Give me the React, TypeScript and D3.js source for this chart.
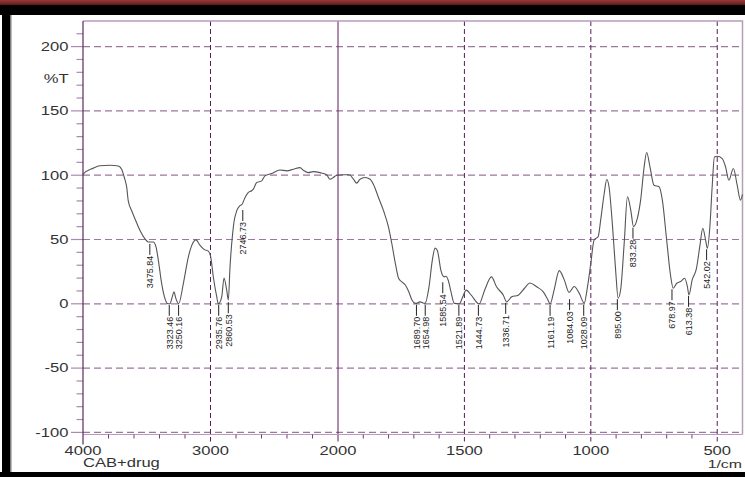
import { useEffect, useRef } from 'react';
import * as d3 from 'd3';

// IR spectrum, CAB+drug (wavenumber in 1/cm, transmittance in %T)
const wavenumbers = [
  4000, 3997, 3919, 3867, 3788, 3723, 3697, 3676, 3657, 3645, 3618, 3592, 3553, 3514, 3488, 3449,
  3427, 3409, 3383, 3357, 3339, 3318, 3301, 3287, 3271, 3250, 3213, 3174, 3147, 3114, 3082, 3051,
  3017, 2998, 2978, 2951, 2939, 2912, 2894, 2873, 2860, 2847, 2826, 2816, 2794, 2769, 2751, 2729,
  2703, 2677, 2664, 2638, 2598, 2573, 2520, 2455, 2402, 2350, 2298, 2272, 2233, 2194, 2141, 2089,
  2063, 2037, 2010, 1979, 1955, 1939, 1926, 1913, 1893, 1873, 1860, 1840, 1820, 1800, 1787, 1773,
  1760, 1747, 1733, 1720, 1707, 1693, 1676, 1656, 1640, 1627, 1616, 1607, 1593, 1580, 1573, 1564,
  1553, 1540, 1520, 1506, 1493, 1473, 1442, 1420, 1393, 1373, 1346, 1333, 1313, 1287, 1263, 1241,
  1214, 1188, 1172, 1161, 1145, 1125, 1105, 1086, 1066, 1046, 1026, 1013, 1000, 987, 971, 961,
  947, 937, 928, 914, 901, 892, 882, 868, 855, 842, 831, 816, 803, 789, 779, 766,
  750, 730, 717, 700, 684, 674, 660, 645, 629, 618, 612, 599, 582, 569, 557, 546,
  539, 529, 520, 511, 500, 480, 467, 454, 436, 421, 408, 400,
];
const transmittance = [
  100, 101, 105.5, 107.3, 107.7, 107.2, 104.6, 98.2, 90.5, 80, 72.4, 66, 57, 50.5, 48, 48,
  44, 33.8, 15.7, 4, 0.3, 0, 5, 9.3, 4, 0, 15.7, 36.3, 45.4, 49.7, 45.4, 42.3,
  41, 36.3, 21, 5.4, 0, 5.4, 20.1, 10.6, 3, 28.6, 55, 63.4, 72.4, 76.3, 77.6, 82.7,
  86.6, 87.9, 89.2, 94.3, 95.6, 99.5, 101.3, 104.1, 103.4, 104.6, 105.9, 103.9, 102, 102.8, 102, 100.3,
  96.9, 98.2, 100, 100.3, 100.3, 96.9, 93.8, 96.9, 98.2, 96.9, 93, 82.7, 72.4, 59.5, 46.7, 31.2,
  19.6, 17, 14.4, 9.3, 2.8, 0.3, 1.5, 0.3, 13.2, 33.8, 43.3, 41.5, 26, 20.9, 21.4, 18.3,
  9.3, 0.3, 0, 5.7, 10.6, 6.7, 0, 10.6, 20.9, 13.2, 6.7, 1.5, 5.4, 6.7, 11.9, 16.2,
  13.2, 9.3, 4, 0, 10.9, 25.8, 18.6, 8.8, 13.4, 8.3, 0.5, 13.4, 31.5, 49.6, 52.2, 65.1,
  85.8, 96.6, 91, 60, 23.8, 4.4, 10.9, 47, 83.2, 72.9, 60, 66.4, 80.6, 106.5, 117.6, 106.5,
  92.2, 91, 80.6, 49.6, 21.2, 12.1, 16, 17.3, 19.9, 13.4, 7, 18.6, 27.6, 44.4, 58.7, 49.6,
  43.2, 60, 91, 114.2, 114.7, 112.9, 106.5, 96.1, 105.2, 92.2, 80.6, 85,
];

// peak picks: label text and the %T where the marker line starts
const peakLabels = [
  '3475.84', '3323.46', '3250.16', '2935.76', '2860.53', '2746.73', '1689.70', '1654.98', '1585.54', '1521.89',
  '1444.73', '1336.71', '1161.19', '1084.03', '1028.09', '895.00', '833.28', '678.97', '613.38', '542.02',
];
const peakAnchors = [
  47.4, 0, 0, 0, 2, 73.7, 0, 0, 17.5, 0,
  0, 1.5, 0, 4.4, 0, 4.4, 60, 12.1, 7, 43.2,
];

const yTicks = [-100, -50, 0, 50, 100, 150, 200];
const xTicks = [4000, 3000, 2000, 1500, 1000, 500];

export default function App() {
  const svgRef = useRef<SVGSVGElement>(null);

  useEffect(() => {
    if (!svgRef.current) return;
    const svg = d3.select(svgRef.current);
    svg.selectAll('*').remove();

    const W = 745;
    const left = 83;
    const right = 742.5;
    const top = 21;
    const axisY = 434.5;
    const sx = 1.38; // source picture is stretched horizontally
    const font = "'Liberation Sans', Arial, Helvetica, sans-serif";

    // x scale breaks at 2000 (double density below)
    const x = d3.scaleLinear().domain([4000, 2000, 400]).range([left, 338, right]);
    const y = d3.scaleLinear().domain([-100, 200]).range([432.4, 46.6]);

    // page frame decoration
    const grad = svg.append('defs').append('linearGradient')
      .attr('id', 'band').attr('x1', 0).attr('x2', 0).attr('y1', 0).attr('y2', 1);
    grad.append('stop').attr('offset', '0%').attr('stop-color', '#9a3a3a');
    grad.append('stop').attr('offset', '100%').attr('stop-color', '#5e1a1a');
    svg.append('rect').attr('x', 0).attr('y', 0).attr('width', W).attr('height', 5).attr('fill', 'url(#band)');
    svg.append('rect').attr('x', 0).attr('y', 5).attr('width', W).attr('height', 10).attr('fill', '#000');
    svg.append('rect').attr('x', 2).attr('y', 15).attr('width', 8.5).attr('height', 462).attr('fill', '#000');
    svg.append('rect').attr('x', 0).attr('y', 472).attr('width', W).attr('height', 5).attr('fill', '#000');
    svg.append('line').attr('x1', 11.5).attr('x2', 11.5).attr('y1', 15).attr('y2', 472)
      .attr('stroke', '#bbb').attr('stroke-width', 1);

    // horizontal dashed grid
    svg.append('g').selectAll('line').data(yTicks).join('line')
      .attr('x1', left).attr('x2', right)
      .attr('y1', d => y(d)).attr('y2', d => y(d))
      .attr('stroke', '#9d77a0').attr('stroke-width', 1.2).attr('stroke-dasharray', '7,4');

    // vertical grid
    svg.append('g').selectAll('line').data(xTicks.filter(d => d !== 4000)).join('line')
      .attr('x1', d => x(d)).attr('x2', d => x(d))
      .attr('y1', top).attr('y2', axisY + 7)
      .attr('stroke', '#5a1d5a').attr('stroke-width', 1)
      .attr('stroke-dasharray', d => (d === 2000 ? null : '5,3'));

    // frame top & right
    svg.append('path')
      .attr('d', `M${left},${top}H${right}V${axisY}`)
      .attr('fill', 'none').attr('stroke', '#b89cbc').attr('stroke-width', 1.5);

    // x axis line
    svg.append('line').attr('x1', left).attr('x2', right).attr('y1', axisY).attr('y2', axisY)
      .attr('stroke', '#b89cbc').attr('stroke-width', 1.2);

    // x minor ticks
    const xMinor = [...d3.range(3800, 2000, -200), ...d3.range(1900, 400, -100)].filter(d => !xTicks.includes(d));
    svg.append('g').selectAll('line').data(xMinor).join('line')
      .attr('x1', d => x(d)).attr('x2', d => x(d))
      .attr('y1', axisY).attr('y2', axisY + 4)
      .attr('stroke', '#6e3f6e').attr('stroke-width', 1);

    // y axis ticks
    svg.append('g').selectAll('line').data(d3.range(-100, 211, 10)).join('line')
      .attr('x1', d => (d % 50 === 0 ? 71 : 76.5)).attr('x2', left)
      .attr('y1', d => y(d)).attr('y2', d => y(d))
      .attr('stroke', '#aa8aae').attr('stroke-width', 1.2);

    // y axis line
    svg.append('line').attr('x1', left).attr('x2', left).attr('y1', top).attr('y2', axisY + 10)
      .attr('stroke', '#5a2a5a').attr('stroke-width', 1.2);

    const stretched = (g: any, tx: number, ty: number) =>
      g.append('g').attr('transform', `translate(${tx},${ty}) scale(${sx},1)`);

    // y tick labels
    yTicks.forEach(v => {
      stretched(svg, 68.5, y(v)).append('text')
        .attr('text-anchor', 'end').attr('dy', '0.36em')
        .attr('font-family', font).attr('font-size', 12).attr('fill', '#333')
        .text(v);
    });
    stretched(svg, 68.5, 78.5).append('text')
      .attr('text-anchor', 'end').attr('dy', '0.36em')
      .attr('font-family', font).attr('font-size', 12).attr('fill', '#333')
      .text('%T');

    // x tick labels
    xTicks.forEach(v => {
      stretched(svg, x(v), 455).append('text')
        .attr('text-anchor', 'middle')
        .attr('font-family', font).attr('font-size', 12).attr('fill', '#333')
        .text(v);
    });
    stretched(svg, left, 467).append('text')
      .attr('font-family', font).attr('font-size', 12).attr('fill', '#333')
      .text('CAB+drug');
    stretched(svg, 742, 467.5).append('text')
      .attr('text-anchor', 'end')
      .attr('font-family', font).attr('font-size', 11.5).attr('fill', '#333')
      .text('1/cm');

    // spectrum
    const pts = wavenumbers.map((w, i) => [w, transmittance[i]] as [number, number]);
    const line = d3.line<[number, number]>()
      .x(d => x(d[0]))
      .y(d => y(d[1]))
      .curve(d3.curveMonotoneX);
    svg.append('path')
      .attr('d', line(pts))
      .attr('fill', 'none').attr('stroke', '#555').attr('stroke-width', 1.1);

    // peak labels
    peakLabels.forEach((lab, i) => {
      const px = x(+lab);
      const y0 = y(peakAnchors[i]) + 1;
      svg.append('line').attr('x1', px).attr('x2', px).attr('y1', y0).attr('y2', y0 + 11)
        .attr('stroke', '#222').attr('stroke-width', 1);
      svg.append('g').attr('transform', `translate(${px},${y0 + 12}) scale(1.08,1) rotate(-90)`)
        .append('text')
        .attr('text-anchor', 'end').attr('dy', '0.36em')
        .attr('font-family', font).attr('font-size', 9).attr('fill', '#222')
        .text(lab);
    });
  }, []);

  return (
    <svg
      ref={svgRef}
      width={745}
      height={477}
      style={{ position: 'fixed', left: 0, top: 0, display: 'block', background: '#fff' }}
    />
  );
}
